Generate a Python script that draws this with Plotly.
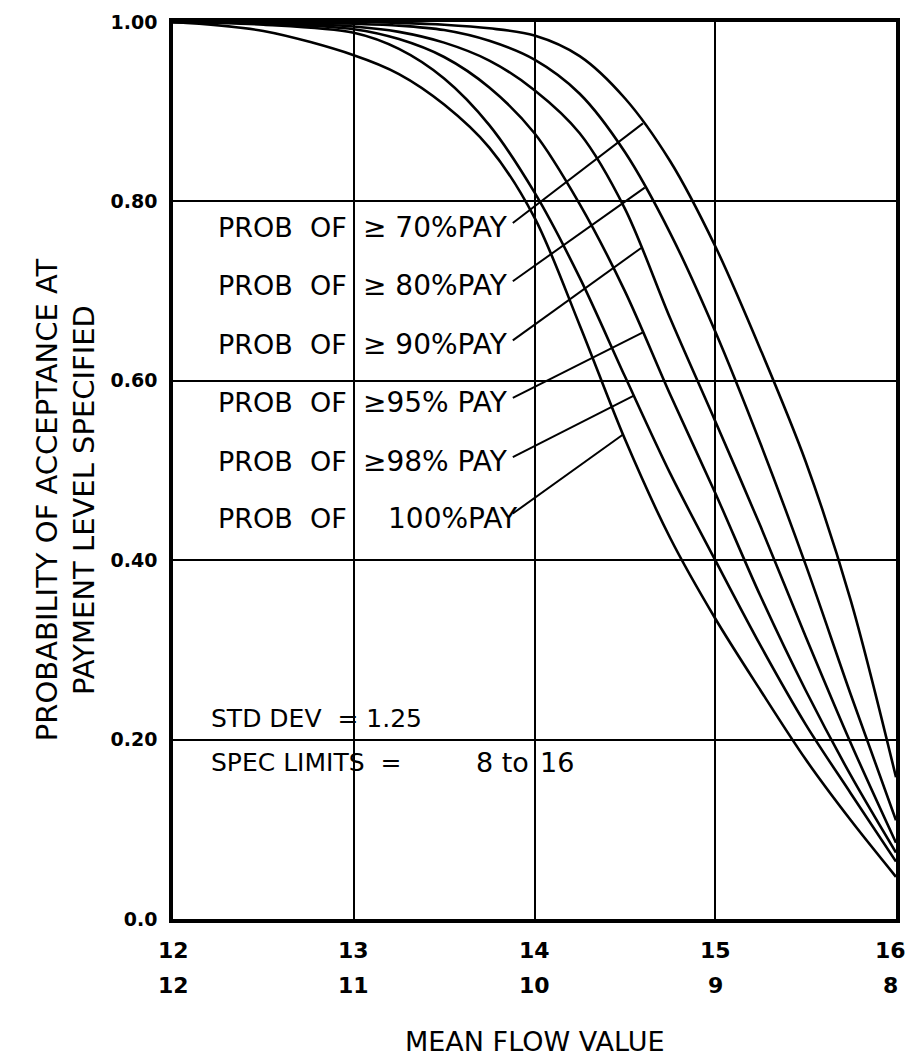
import numpy as np
import plotly.graph_objects as go

# Mean flow value (upper scale 12..16, lower scale 12..8)
mean_flow = [12.0, 12.5, 13.0, 13.25, 13.5, 13.75, 14.0, 14.25, 14.5, 14.75, 15.0, 15.25, 15.5, 15.75, 16.0]

# Probability of acceptance at each payment level
p_ge70 = [1.0, 1.0, 1.0, 0.999, 0.997, 0.993, 0.985, 0.962, 0.915, 0.845, 0.75, 0.635, 0.51, 0.355, 0.158]
p_ge80 = [1.0, 1.0, 0.998, 0.996, 0.991, 0.979, 0.958, 0.92, 0.855, 0.765, 0.655, 0.53, 0.395, 0.25, 0.110]
p_ge90 = [1.0, 0.999, 0.995, 0.989, 0.977, 0.957, 0.924, 0.876, 0.792, 0.67, 0.555, 0.438, 0.315, 0.196, 0.085]
p_ge95 = [1.0, 0.998, 0.992, 0.981, 0.961, 0.927, 0.876, 0.797, 0.70, 0.585, 0.475, 0.36, 0.255, 0.16, 0.074]
p_ge98 = [1.0, 0.997, 0.988, 0.97, 0.937, 0.885, 0.81, 0.715, 0.605, 0.497, 0.40, 0.305, 0.217, 0.14, 0.064]
p_100 = [1.0, 0.99, 0.963, 0.942, 0.908, 0.86, 0.782, 0.662, 0.535, 0.425, 0.335, 0.255, 0.178, 0.11, 0.047]

curves = [p_ge70, p_ge80, p_ge90, p_ge95, p_ge98, p_100]
level_text = ["\u2265 70%PAY", "\u2265 80%PAY", "\u2265 90%PAY", "\u226595% PAY", "\u226598% PAY", "100%PAY"]
label_rows = [0.771, 0.706, 0.640, 0.576, 0.510, 0.447]
leader_end_x = [14.60, 14.61, 14.59, 14.60, 14.55, 14.49]

upper_ticks = [12, 13, 14, 15, 16]
upper_text = ["12", "13", "14", "15", "16"]
lower_text = ["12", "11", "10", "9", "8"]
y_ticks = [0.0, 0.2, 0.4, 0.6, 0.8, 1.0]
y_text = ["0.0", "0.20", "0.40", "0.60", "0.80", "1.00"]

INK = "black"
LETTER = "DejaVu Sans"

fig = go.Figure()
for ys in curves:
    fig.add_trace(go.Scatter(x=mean_flow, y=ys, mode="lines",
                             line=dict(color=INK, width=2.6, shape="spline", smoothing=0.9),
                             hoverinfo="skip", showlegend=False))

# payment level labels with leader lines to their curves
label_start_x = 13.88
for txt, row, ys, ex in zip(level_text, label_rows, curves, leader_end_x):
    fig.add_annotation(x=12.975, y=row, xref="x", yref="y", text="PROB  OF",
                       showarrow=False, xanchor="right", yanchor="middle",
                       font=dict(family=LETTER, size=27, color=INK))
    x0 = 13.04 if txt.startswith("\u2265") else 13.18
    fig.add_annotation(x=x0, y=row, xref="x", yref="y", text=txt,
                       showarrow=False, xanchor="left", yanchor="middle",
                       font=dict(family=LETTER, size=28, color=INK))
    ey = float(np.interp(ex, mean_flow, ys))
    fig.add_shape(type="line", xref="x", yref="y", x0=label_start_x, y0=row + 0.005,
                  x1=ex, y1=ey, line=dict(color=INK, width=2))

fig.add_annotation(x=12.2, y=0.224, xref="x", yref="y", text="STD DEV  = 1.25",
                   showarrow=False, xanchor="left", yanchor="middle",
                   font=dict(family=LETTER, size=25, color=INK))
fig.add_annotation(x=12.2, y=0.175, xref="x", yref="y", text="SPEC LIMITS  =",
                   showarrow=False, xanchor="left", yanchor="middle",
                   font=dict(family=LETTER, size=25, color=INK))
fig.add_annotation(x=13.98, y=0.175, xref="x", yref="y", text="8 to",
                   showarrow=False, xanchor="right", yanchor="middle",
                   font=dict(family=LETTER, size=27, color=INK))
fig.add_annotation(x=14.02, y=0.175, xref="x", yref="y", text="16",
                   showarrow=False, xanchor="left", yanchor="middle",
                   font=dict(family=LETTER, size=27, color=INK))

# both mean-flow scales under the axis; the last column is nudged inward
for i, (xv, t_up, t_low) in enumerate(zip(upper_ticks, upper_text, lower_text)):
    shift = -6 if i == len(upper_ticks) - 1 else 0
    fig.add_annotation(x=xv, y=-0.0346, xref="x", yref="paper", text=t_up, showarrow=False,
                       xanchor="center", yanchor="middle", xshift=shift,
                       font=dict(family=LETTER, size=22, color=INK, weight="bold"))
    fig.add_annotation(x=xv, y=-0.0736, xref="x", yref="paper", text=t_low, showarrow=False,
                       xanchor="center", yanchor="middle", xshift=shift,
                       font=dict(family=LETTER, size=22, color=INK, weight="bold"))

fig.add_annotation(x=0.5, y=-0.137, xref="paper", yref="paper", text="MEAN FLOW VALUE",
                   showarrow=False, xanchor="center", yanchor="middle",
                   font=dict(family=LETTER, size=27, color=INK))
fig.add_annotation(x=-0.148, y=0.468, xref="paper", yref="paper",
                   text="PROBABILITY OF ACCEPTANCE AT<br>PAYMENT LEVEL SPECIFIED",
                   textangle=-90, showarrow=False, xanchor="center", yanchor="middle",
                   font=dict(family=LETTER, size=29, color=INK))

fig.update_xaxes(range=[12, 16], tickvals=upper_ticks, showticklabels=False,
                 showgrid=True, gridcolor=INK, gridwidth=2,
                 showline=True, linecolor=INK, linewidth=3.5, mirror=True,
                 zeroline=False, ticks="")
fig.update_yaxes(range=[0, 1], tickvals=y_ticks, ticktext=y_text,
                 showgrid=True, gridcolor=INK, gridwidth=2,
                 showline=True, linecolor=INK, linewidth=3.5, mirror=True,
                 zeroline=False, ticks="", ticklabelstandoff=8,
                 tickfont=dict(family=LETTER, size=19, color=INK, weight="bold"))

fig.update_layout(width=910, height=1057, margin=dict(l=173, r=10, t=22, b=138),
                  plot_bgcolor="white", paper_bgcolor="white", showlegend=False)

fig.write_html("out.html")
